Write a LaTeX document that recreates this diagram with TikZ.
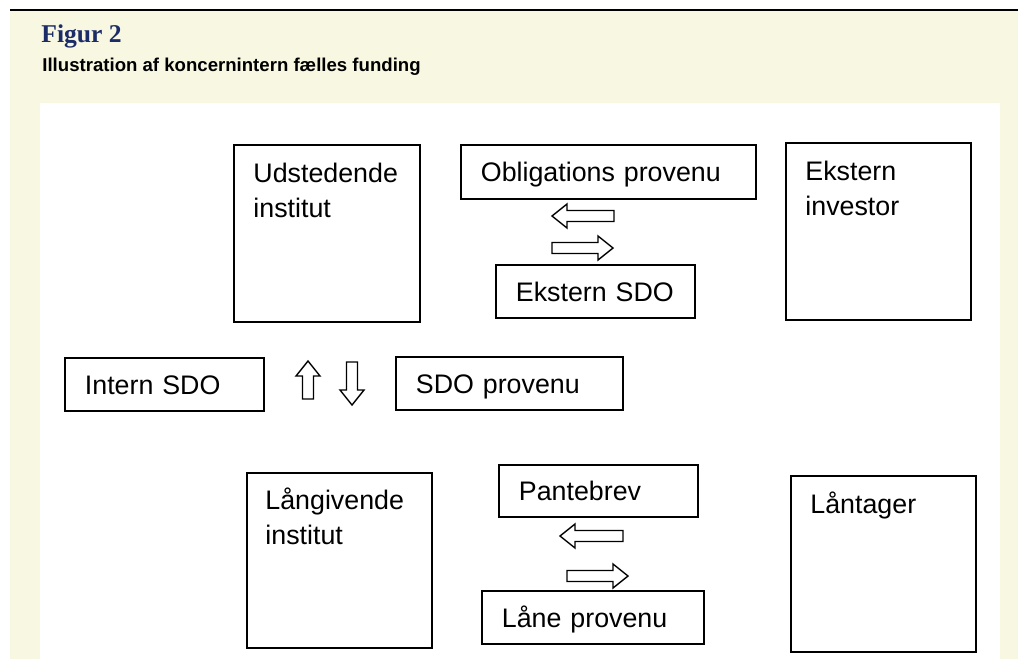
\documentclass[tikz,border=0pt]{standalone}
\usepackage{fontspec}
\setmainfont{Liberation Sans}
\newfontfamily\titlefont{Liberation Serif}
\usetikzlibrary{positioning}

\definecolor{paper}{RGB}{248,247,226}
\definecolor{navy}{RGB}{28,44,104}

\tikzset{
    box/.style={draw, line width=0.9pt, anchor=north west, align=left,
        inner xsep=10pt, inner ysep=0pt, text height=9.6pt, text depth=0pt,
        font=\fontsize{13.4}{17.5}\selectfont},
    tallbox/.style={draw, line width=0.9pt, anchor=north west, inner sep=0pt},
    boxtext/.style={anchor=north west, align=left, inner sep=0pt,
        font=\fontsize{13.4}{17.5}\selectfont},
    pics/hollowarrow/.style={code={
        \draw[line width=0.7pt, fill=white] (0,-5.5) -- ({#1-15},-5.5) -- ({#1-15},-12)
            -- (#1,0) -- ({#1-15},12) -- ({#1-15},5.5) -- (0,5.5) -- cycle;
    }}
}

\begin{document}
\begin{tikzpicture}[x=0.5pt, y=-0.5pt]
        \useasboundingbox (0,0) rectangle (1018,659);

        % background and header
        \fill[paper] (10,11) rectangle (1018,659);
        \fill[white] (40,103) rectangle (1000,659);
        \draw[line width=0.8pt] (10,10) -- (1018,10);

        \node[anchor=base west, inner sep=0pt, text=navy,
            font=\titlefont\bfseries\fontsize{12.8}{14}\selectfont] (title) at (41,42) {Figur 2};
        \node[anchor=base west, inner sep=0pt,
            font=\bfseries\fontsize{9.3}{11}\selectfont] (subtitle) at (42,71)
            {Illustration af koncernintern fælles funding};

        % upper row
        \node[tallbox, minimum width=93pt, minimum height=88.5pt] (udst) at (233,144) {};
        \node[boxtext] at ([shift={(20,19)}]udst.north west) {Udstedende\\institut};

        \node[box, text width=127.5pt, minimum height=27pt] (oblig) at (460,144) {Obligations provenu};

        \node[tallbox, minimum width=92.5pt, minimum height=88.5pt] (invest) at (785,142) {};
        \node[boxtext] at ([shift={(20,19)}]invest.north west) {Ekstern\\investor};

        \node[box, text width=79.5pt, minimum height=26.5pt] (ekstsdo) at (495,264) {Ekstern SDO};

        \pic[rotate=180] at (614,216) {hollowarrow=62};
        \pic at (552,248) {hollowarrow=61};

        % middle row
        \node[box, text width=79.5pt, minimum height=26.5pt] (intsdo) at (64,357) {Intern SDO};
        \node[box, text width=93.5pt, minimum height=26.5pt] (sdoprov) at (395,356) {SDO provenu};

        \pic[rotate=90] at (308,399) {hollowarrow=38};
        \pic[rotate=-90] at (352,362) {hollowarrow=43};

        % lower row
        \node[tallbox, minimum width=92.5pt, minimum height=87.5pt] (laang) at (246,472) {};
        \node[boxtext] at ([shift={(19,15.5)}]laang.north west) {Långivende\\institut};

        \node[box, text width=79.5pt, minimum height=26pt] (pant) at (498,464) {Pantebrev};

        \node[tallbox, minimum width=92.5pt, minimum height=88pt] (laantag) at (790,475) {};
        \node[boxtext] at ([shift={(20,16)}]laantag.north west) {Låntager};

        \node[box, text width=91pt, minimum height=26.5pt] (laaneprov) at (481,590) {Låne provenu};

        \pic[rotate=180] at (623,536) {hollowarrow=63};
        \pic at (567,576) {hollowarrow=61};
\end{tikzpicture}
\end{document}
